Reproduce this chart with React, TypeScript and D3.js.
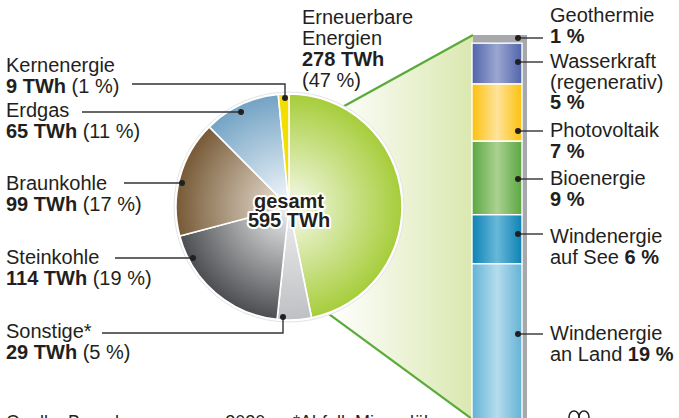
import * as d3 from "d3";

const W = 679;
const H = 418;
const FONT = "'Liberation Sans', Arial, Helvetica, sans-serif";
const INK = "#231f20";

// Stromerzeugung nach Energieträgern (TWh), im Uhrzeigersinn ab 12 Uhr
const pieKeys = ["ee", "sonstige", "steinkohle", "braunkohle", "erdgas", "kern"];
const pieValues = [278, 29, 114, 99, 65, 9];
const pieNames = ["Erneuerbare Energien", "Sonstige*", "Steinkohle", "Braunkohle", "Erdgas", "Kernenergie"];
const piePercents = [47, 5, 19, 17, 11, 1];
const pieColors: [string, string][] = [
  ["#f3f8e4", "#a6cd3a"],
  ["#ececed", "#bfc0c3"],
  ["#e8e9ea", "#4c4d50"],
  ["#e9e0d3", "#775a37"],
  ["#f1f6fa", "#73a3c4"],
  ["#f2df00", "#f2df00"],
];
const TOTAL = 595;

// Anteil der Erneuerbaren (%), von oben nach unten
const eeNames = ["Geothermie", "Wasserkraft", "Photovoltaik", "Bioenergie", "Windenergie auf See", "Windenergie an Land"];
const eeValues = [1, 5, 7, 9, 6, 19];
const eeColors: [string, string][] = [
  ["#a6a8ab", "#a6a8ab"],
  ["#5165ab", "#9ba6d1"],
  ["#fcc10c", "#fee39a"],
  ["#5ba742", "#abd191"],
  ["#0d82b3", "#68b8da"],
  ["#63b3d7", "#b5dced"],
];

// Beschriftungen links: Textzeile y, Leader y, Leader-Anfang x, Punkt
const leftLabels = [
  { i: 5, y: 72, ly: 84, lx0: 132, dot: [285, 98] },
  { i: 4, y: 117, ly: 112, lx0: 82, dot: [241, 112] },
  { i: 3, y: 190, ly: 183, lx0: 124, dot: [182, 183] },
  { i: 2, y: 264, ly: 258, lx0: 115, dot: [193, 258] },
  { i: 1, y: 338, ly: 333, lx0: 102, dot: [283, 317] },
];

export default function App() {
  const cx = 289;
  const cy = 207;
  const r = 113;

  const pie = d3.pie<number>().sort(null).value((d) => d);
  const arcs = pie(pieValues);
  const arc = d3.arc<d3.PieArcDatum<number>>().innerRadius(0).outerRadius(r);

  const barX0 = 472;
  const barX1 = 522;
  const y = d3.scaleLinear().domain([0, d3.sum(eeValues)]).range([35, 419]);
  const cum = eeValues.map((_, i) => d3.sum(eeValues.slice(0, i)));

  // Verbindung Tortenstück -> Säule
  const aTop = (28 * Math.PI) / 180;
  const aBot = (160 * Math.PI) / 180;
  const pTop = [cx + r * Math.sin(aTop), cy - r * Math.cos(aTop)];
  const pBot = [cx + r * Math.sin(aBot), cy - r * Math.cos(aBot)];
  const conn = d3.line()([
    [pTop[0], pTop[1]],
    [barX0 + 1, y(0)],
    [barX0, y(d3.sum(eeValues))],
    [pBot[0], pBot[1]],
  ]);

  const rightLabels = [
    { lines: [["Geothermie", false], ["1 %", true]], y: 22, dy: 38 },
    { lines: [["Wasserkraft", false], ["(regenerativ)", false], ["5 %", true]], y: 68, dy: 62 },
    { lines: [["Photovoltaik", false], ["7 %", true]], y: 137, dy: 131 },
    { lines: [["Bioenergie", false], ["9 %", true]], y: 185, dy: 179 },
    { lines: [["Windenergie", false], ["auf See ", false, "6 %"]], y: 243, dy: 234 },
    { lines: [["Windenergie", false], ["an Land ", false, "19 %"]], y: 340, dy: 334 },
  ];

  return (
    <svg width={W} height={H} style={{ position: "absolute", left: 0, top: 0, background: "#fff" }} fontFamily={FONT}>
      <defs>
        {pieColors.map((c, i) => (
          <radialGradient key={i} id={`pg${i}`} gradientUnits="userSpaceOnUse" cx={0} cy={0} r={r}>
            <stop offset="0.05" stopColor={c[0]} />
            <stop offset="1" stopColor={c[1]} />
          </radialGradient>
        ))}
        {eeColors.map((c, i) => (
          <linearGradient key={i} id={`bg${i}`} x1="0" x2="1" y1="0" y2="0">
            <stop offset="0" stopColor={c[0]} />
            <stop offset="0.5" stopColor={c[1]} />
            <stop offset="1" stopColor={c[0]} />
          </linearGradient>
        ))}
        <linearGradient id="conn" gradientUnits="userSpaceOnUse" x1={330} x2={472} y1={0} y2={0}>
          <stop offset="0" stopColor="#ffffff" />
          <stop offset="1" stopColor="#dae8b0" />
        </linearGradient>
      </defs>

      {/* Verbindungsfläche */}
      <path d={conn ?? ""} fill="url(#conn)" />
      <line x1={pTop[0]} y1={pTop[1]} x2={barX0 + 1} y2={y(0)} stroke="#5aab3a" strokeWidth={2.2} />
      <line x1={pBot[0]} y1={pBot[1]} x2={barX0} y2={y(d3.sum(eeValues))} stroke="#5aab3a" strokeWidth={2.2} />

      {/* Torte */}
      <circle cx={cx} cy={cy} r={r + 2} fill="#fff" stroke="#e4e4e4" strokeWidth={1} />
      <g transform={`translate(${cx},${cy})`}>
        {arcs.map((a, i) => (
          <path key={pieKeys[i]} d={arc(a) ?? ""} fill={`url(#pg${i})`} stroke="#fff" strokeWidth={1.6} />
        ))}
      </g>
      <text textAnchor="middle" fontWeight="bold" fontSize={20} fill={INK} stroke="#fff" strokeWidth={4} strokeLinejoin="round" style={{ paintOrder: "stroke" }}>
        <tspan x={cx} y={208}>gesamt</tspan>
        <tspan x={cx} y={227}>{`${TOTAL} TWh`}</tspan>
      </text>

      {/* Säule */}
      <rect x={barX0 + 1} y={y(0)} width={54} height={y(d3.sum(eeValues)) - y(0)} fill="#a6a8ab" />
      {eeValues.map((v, i) =>
        i === 0 ? null : (
          <rect
            key={eeNames[i]}
            x={barX0}
            y={y(cum[i])}
            width={barX1 - barX0}
            height={y(cum[i] + v) - y(cum[i])}
            fill={`url(#bg${i})`}
            stroke="#fff"
            strokeWidth={1.4}
          />
        )
      )}

      {/* Beschriftung Erneuerbare */}
      <text fontSize={20} fill={INK}>
        <tspan x={302} y={24}>Erneuerbare</tspan>
        <tspan x={302} y={45}>Energien</tspan>
        <tspan x={302} y={66} fontWeight="bold">{`${pieValues[0]} TWh`}</tspan>
        <tspan x={302} y={87}>{`(${piePercents[0]} %)`}</tspan>
      </text>

      {/* Beschriftungen links */}
      {leftLabels.map((l) => {
        const pts: [number, number][] =
          l.dot[1] === l.ly
            ? [[l.lx0, l.ly], [l.dot[0], l.ly]]
            : [[l.lx0, l.ly], [l.dot[0], l.ly], [l.dot[0], l.dot[1]]];
        return (
          <g key={pieKeys[l.i]}>
            <path d={d3.line()(pts) ?? ""} fill="none" stroke="#333" strokeWidth={1.4} />
            <circle cx={l.dot[0]} cy={l.dot[1]} r={3} fill={INK} />
            <text fontSize={20} fill={INK}>
              <tspan x={6} y={l.y}>{pieNames[l.i]}</tspan>
              <tspan x={6} y={l.y + 21} fontWeight="bold">{`${pieValues[l.i]} TWh`}</tspan>
              <tspan>{` (${piePercents[l.i]} %)`}</tspan>
            </text>
          </g>
        );
      })}

      {/* Beschriftungen rechts */}
      {rightLabels.map((l, i) => (
        <g key={eeNames[i]}>
          <line x1={518} x2={543} y1={l.dy} y2={l.dy} stroke="#333" strokeWidth={1.4} />
          <circle cx={518} cy={l.dy} r={3} fill={INK} />
          <text fontSize={20} fill={INK}>
            {l.lines.map((ln, k) => (
              <tspan key={k} x={550} y={l.y + k * 20.5} fontWeight={ln[1] ? "bold" : "normal"}>
                {ln[0] as string}
                {ln[2] ? <tspan fontWeight="bold">{ln[2] as string}</tspan> : null}
              </tspan>
            ))}
          </text>
        </g>
      ))}

      {/* Quelle */}
      <text fontSize={18} fill={INK}>
        <tspan x={6} y={428}>Quelle: Branchenprognose 2020</tspan>
        <tspan x={293} y={428}>*Abfall, Mineralöl</tspan>
      </text>
      <g fill="none" stroke={INK} strokeWidth={1.5}>
        <ellipse cx={574} cy={417} rx={5} ry={6} />
        <ellipse cx={584} cy={417} rx={5} ry={6} />
      </g>
    </svg>
  );
}
